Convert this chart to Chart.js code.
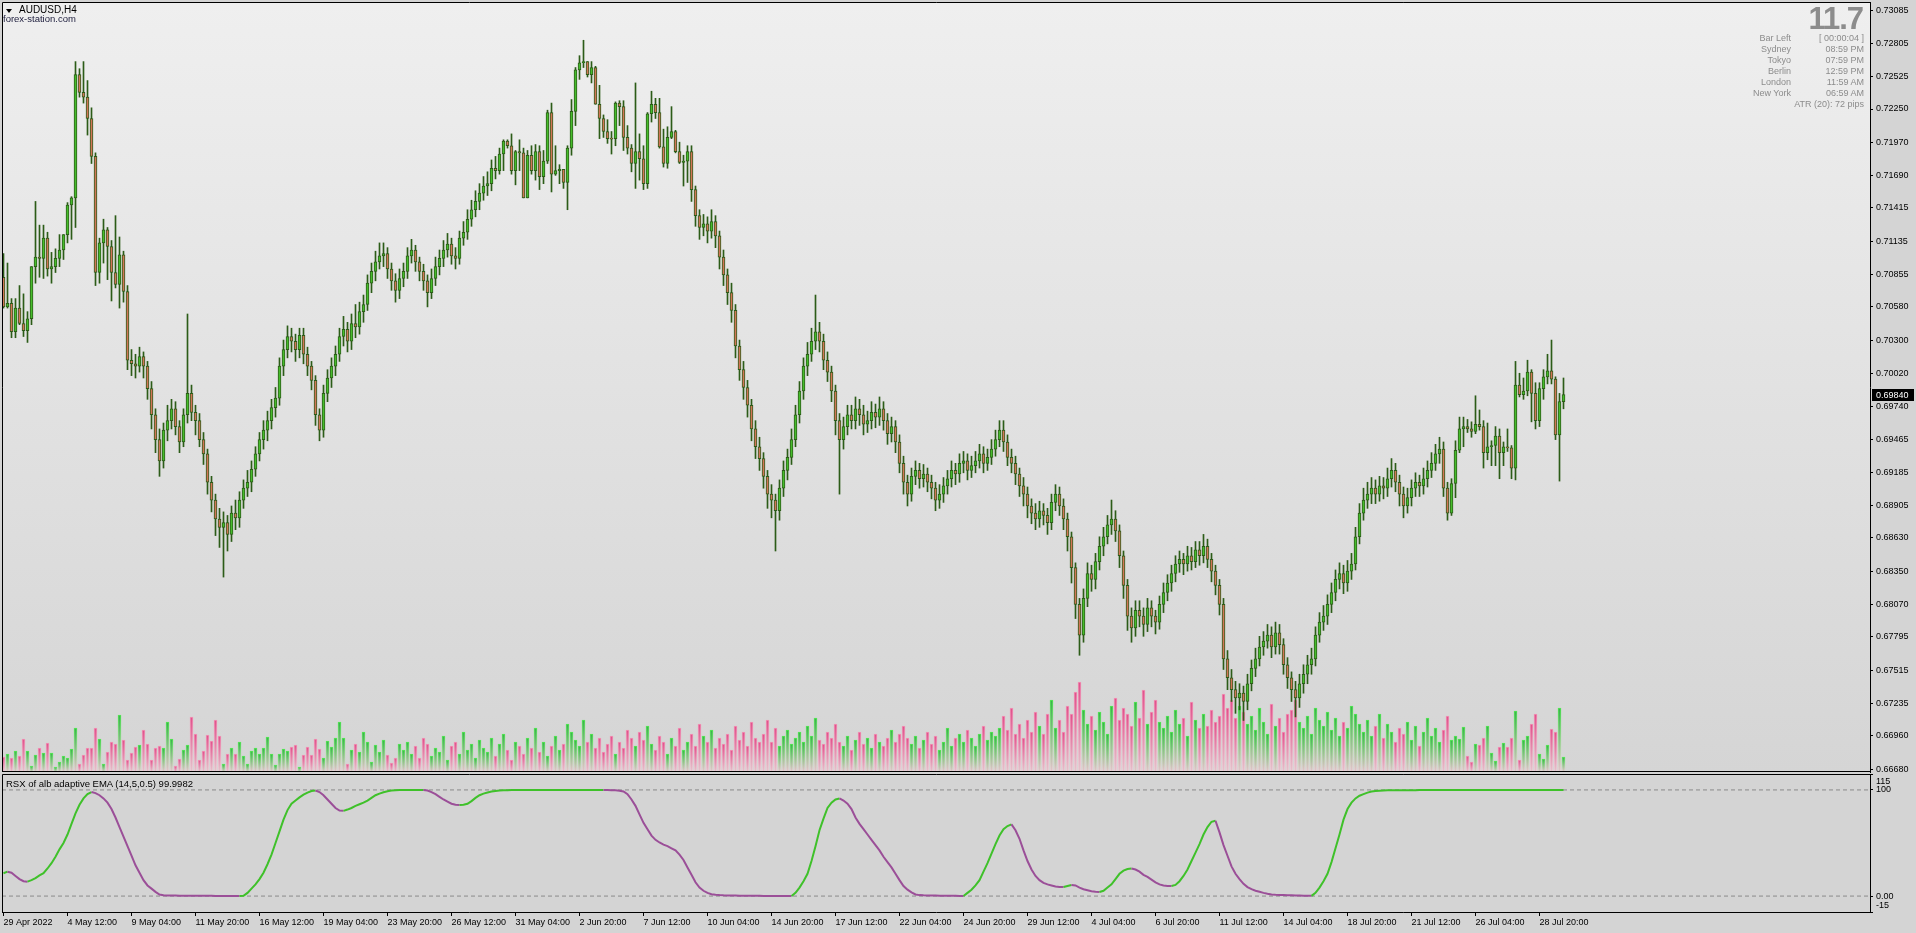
<!DOCTYPE html>
<html>
<head>
<meta charset="utf-8">
<title>AUDUSD,H4</title>
<script src="https://cdn.jsdelivr.net/npm/chart.js@4.4.1/dist/chart.umd.min.js"></script>
<style>
  html, body { margin: 0; padding: 0; background: #d4d4d4; }
  body { width: 1916px; height: 933px; position: relative; overflow: hidden; font-family: "Liberation Sans", Arial, sans-serif; }
  #mainWrap { position: absolute; left: 0; top: 0; }
  #rsxWrap { position: absolute; left: 0; top: 772px; }
  .txt { position: absolute; white-space: nowrap; line-height: 1; }
  #tri { position: absolute; left: 6px; top: 9px; width: 0; height: 0; border-left: 3px solid transparent; border-right: 3px solid transparent; border-top: 4px solid #000; }
</style>
</head>
<body>
<div id="mainWrap"><canvas id="mainChart" width="1916" height="774"></canvas></div>
<div id="rsxWrap"><canvas id="rsxChart" width="1916" height="161"></canvas></div>
<div id="tri"></div>
<div class="txt" style="left:19px;top:5px;font-size:10px;color:#000;">AUDUSD,H4</div>
<div class="txt" style="left:3px;top:14px;font-size:9.5px;color:#1c1c3c;">forex-station.com</div>
<div class="txt" style="left:6px;top:779px;font-size:9.5px;color:#000;">RSX of alb adaptive EMA (14,5,0.5) 99.9982</div>
<div class="txt" style="right:53px;top:3px;font-size:31px;font-weight:bold;color:#8c8c8c;letter-spacing:-1px;">11.7</div>
<div id="info"></div>
<script>
// ---- data ----
const timeLabels = ['29 Apr 2022', '4 May 12:00', '9 May 04:00', '11 May 20:00', '16 May 12:00', '19 May 04:00',
  '23 May 20:00', '26 May 12:00', '31 May 04:00', '2 Jun 20:00', '7 Jun 12:00', '10 Jun 04:00', '14 Jun 20:00',
  '17 Jun 12:00', '22 Jun 04:00', '24 Jun 20:00', '29 Jun 12:00', '4 Jul 04:00', '6 Jul 20:00', '11 Jul 12:00',
  '14 Jul 04:00', '18 Jul 20:00', '21 Jul 12:00', '26 Jul 04:00', '28 Jul 20:00'];
const labelStep = 16; // bars between time labels

const priceTicks = [0.73085, 0.72805, 0.72525, 0.72250, 0.71970, 0.71690, 0.71415, 0.71135, 0.70855, 0.70580,
  0.70300, 0.70020, 0.69740, 0.69465, 0.69185, 0.68905, 0.68630, 0.68350, 0.68070, 0.67795, 0.67515, 0.67235,
  0.66960, 0.66680];
const rsxTicks = [115, 100, 0, -15];
const rsxLevels = [100, 0];

const firstOpen = 0.7083;
const closes = [
  0.7058, 0.7061, 0.7037, 0.7057, 0.7044, 0.7038, 0.7048, 0.7092, 0.7100, 0.7099,
  0.7116, 0.7090, 0.7092, 0.7099, 0.7106, 0.7119, 0.7144, 0.7150, 0.7254, 0.7239,
  0.7235, 0.7217, 0.7185, 0.7087, 0.7112, 0.7123, 0.7109, 0.7087, 0.7077, 0.7102,
  0.7071, 0.7013, 0.7010, 0.7008, 0.7016, 0.7008, 0.6989, 0.6967, 0.6946, 0.6928,
  0.6954, 0.6962, 0.6972, 0.6957, 0.6944, 0.6967, 0.6985, 0.6969, 0.6962, 0.6946,
  0.6934, 0.6910, 0.6895, 0.6879, 0.6872, 0.6876, 0.6866, 0.6884, 0.6880, 0.6895,
  0.6905, 0.6910, 0.6921, 0.6934, 0.6946, 0.6954, 0.6962, 0.6973, 0.6981, 0.7008,
  0.7022, 0.7033, 0.7029, 0.7022, 0.7034, 0.7018, 0.7008, 0.6996, 0.6967, 0.6954,
  0.6985, 0.6998, 0.7008, 0.7018, 0.7033, 0.7039, 0.7029, 0.7044, 0.7041, 0.7054,
  0.7060, 0.7078, 0.7088, 0.7096, 0.7101, 0.7103, 0.7090, 0.7080, 0.7072, 0.7082,
  0.7088, 0.7101, 0.7106, 0.7096, 0.7088, 0.7080, 0.7070, 0.7082, 0.7092, 0.7099,
  0.7106, 0.7111, 0.7101, 0.7099, 0.7116, 0.7121, 0.7132, 0.7140, 0.7147, 0.7154,
  0.7160, 0.7162, 0.7175, 0.7173, 0.7187, 0.7198, 0.7194, 0.7173, 0.7189, 0.7188,
  0.7150, 0.7186, 0.7173, 0.7189, 0.7168, 0.7181, 0.7222, 0.7170, 0.7173, 0.7174,
  0.7163, 0.7192, 0.7223, 0.7258, 0.7264, 0.7265, 0.7254, 0.7260, 0.7229, 0.7217,
  0.7206, 0.7200, 0.7200, 0.7230, 0.7227, 0.7201, 0.7192, 0.7179, 0.7189, 0.7183,
  0.7162, 0.7221, 0.7229, 0.7222, 0.7193, 0.7179, 0.7201, 0.7206, 0.7189, 0.7180,
  0.7181, 0.7189, 0.7157, 0.7135, 0.7125, 0.7128, 0.7122, 0.7130, 0.7118, 0.7100,
  0.7085, 0.7070, 0.7055, 0.7025, 0.7005, 0.6990, 0.6975, 0.6955, 0.6940, 0.6930,
  0.6915, 0.6900, 0.6895, 0.6886, 0.6905, 0.6920, 0.6931, 0.6946, 0.6967, 0.6987,
  0.7008, 0.7018, 0.7029, 0.7037, 0.7029, 0.7013, 0.7003, 0.6987, 0.6962, 0.6946,
  0.6957, 0.6967, 0.6962, 0.6972, 0.6967, 0.6959, 0.6962, 0.6969, 0.6965, 0.6972,
  0.6962, 0.6951, 0.6957, 0.6944, 0.6926, 0.6910, 0.6900, 0.6915, 0.6920, 0.6913,
  0.6917, 0.6910, 0.6905, 0.6895, 0.6900, 0.6907, 0.6913, 0.6920, 0.6917, 0.6926,
  0.6928, 0.6920, 0.6924, 0.6928, 0.6934, 0.6926, 0.6931, 0.6938, 0.6946, 0.6954,
  0.6944, 0.6931, 0.6926, 0.6917, 0.6907, 0.6900, 0.6890, 0.6884, 0.6879, 0.6886,
  0.6882, 0.6876, 0.6893, 0.6900, 0.6890, 0.6879, 0.6864, 0.6838, 0.6807, 0.6781,
  0.6812, 0.6833, 0.6828, 0.6843, 0.6856, 0.6864, 0.6874, 0.6879, 0.6869, 0.6848,
  0.6823, 0.6797, 0.6787, 0.6802, 0.6797, 0.6790, 0.6804, 0.6797, 0.6792, 0.6807,
  0.6817, 0.6825, 0.6833, 0.6841, 0.6845, 0.6841, 0.6848, 0.6843, 0.6853, 0.6848,
  0.6856, 0.6845, 0.6835, 0.6823, 0.6807, 0.6761, 0.6745, 0.6735, 0.6728, 0.6732,
  0.6725, 0.6740, 0.6753, 0.6761, 0.6771, 0.6776, 0.6781, 0.6771, 0.6783, 0.6773,
  0.6756, 0.6745, 0.6735, 0.6728, 0.6740, 0.6748, 0.6756, 0.6761, 0.6781, 0.6792,
  0.6797, 0.6807, 0.6817, 0.6828, 0.6833, 0.6825, 0.6835, 0.6841, 0.6864, 0.6884,
  0.6895, 0.6900, 0.6905, 0.6900, 0.6907, 0.6905, 0.6913, 0.6920, 0.6910, 0.6900,
  0.6890, 0.6897, 0.6905, 0.6910, 0.6907, 0.6913, 0.6920, 0.6926, 0.6934, 0.6938,
  0.6905, 0.6884, 0.6909, 0.6937, 0.6955, 0.6957, 0.6955, 0.6953, 0.6959, 0.6957,
  0.6935, 0.6940, 0.6941, 0.6949, 0.6935, 0.6940, 0.6939, 0.6922, 0.6992, 0.6984,
  0.6987, 0.7003, 0.6985, 0.6962, 0.6989, 0.6999, 0.7004, 0.6997, 0.6950, 0.6978,
  0.6984];
const highs = [
  0.7103, 0.7095, 0.7065, 0.7065, 0.7076, 0.7069, 0.7054, 0.7092, 0.7147, 0.7127,
  0.7127, 0.7121, 0.7104, 0.7107, 0.7119, 0.7119, 0.7146, 0.7151, 0.7265, 0.7259,
  0.7265, 0.7249, 0.7226, 0.7188, 0.7116, 0.7132, 0.7125, 0.7114, 0.7135, 0.7117,
  0.7105, 0.7076, 0.7022, 0.7018, 0.7024, 0.7020, 0.7012, 0.6995, 0.6972, 0.6955,
  0.6960, 0.6975, 0.6980, 0.6978, 0.6962, 0.6972, 0.7052, 0.6992, 0.6975, 0.6968,
  0.6952, 0.6938, 0.6915, 0.6900, 0.6888, 0.6885, 0.6882, 0.6890, 0.6895, 0.6902,
  0.6912, 0.6920, 0.6928, 0.6940, 0.6952, 0.6962, 0.6970, 0.6980, 0.6990, 0.7015,
  0.7030, 0.7042, 0.7040, 0.7035, 0.7040, 0.7040, 0.7024, 0.7012, 0.7000, 0.6972,
  0.6992, 0.7005, 0.7015, 0.7025, 0.7040, 0.7050, 0.7045, 0.7052, 0.7060, 0.7062,
  0.7068, 0.7085, 0.7095, 0.7105, 0.7112, 0.7112, 0.7108, 0.7095, 0.7086, 0.7090,
  0.7095, 0.7108, 0.7115, 0.7110, 0.7100, 0.7094, 0.7085, 0.7090, 0.7100, 0.7106,
  0.7114, 0.7120, 0.7116, 0.7108, 0.7122, 0.7130, 0.7140, 0.7148, 0.7156, 0.7162,
  0.7168, 0.7172, 0.7182, 0.7185, 0.7192, 0.7199, 0.7199, 0.7204, 0.7190, 0.7199,
  0.7192, 0.7190, 0.7194, 0.7195, 0.7194, 0.7190, 0.7224, 0.7230, 0.7194, 0.7178,
  0.7174, 0.7194, 0.7233, 0.7260, 0.7270, 0.7283, 0.7265, 0.7265, 0.7261, 0.7245,
  0.7220, 0.7216, 0.7206, 0.7231, 0.7232, 0.7232, 0.7211, 0.7195, 0.7247, 0.7204,
  0.7194, 0.7222, 0.7240, 0.7234, 0.7234, 0.7208, 0.7210, 0.7227, 0.7207, 0.7197,
  0.7186, 0.7194, 0.7194, 0.7160, 0.7140, 0.7136, 0.7134, 0.7140, 0.7135, 0.7122,
  0.7106, 0.7090, 0.7078, 0.7060, 0.7030, 0.7012, 0.6996, 0.6980, 0.6962, 0.6948,
  0.6935, 0.6920, 0.6908, 0.6900, 0.6912, 0.6928, 0.6938, 0.6955, 0.6975, 0.6995,
  0.7015, 0.7028, 0.7040, 0.7068, 0.7045, 0.7035, 0.7020, 0.7008, 0.6992, 0.6968,
  0.6965, 0.6975, 0.6975, 0.6982, 0.6980, 0.6975, 0.6970, 0.6978, 0.6976, 0.6982,
  0.6978, 0.6968, 0.6965, 0.6962, 0.6950, 0.6932, 0.6916, 0.6922, 0.6928, 0.6926,
  0.6925, 0.6922, 0.6916, 0.6910, 0.6908, 0.6914, 0.6920, 0.6928, 0.6926, 0.6934,
  0.6936, 0.6934, 0.6932, 0.6936, 0.6942, 0.6940, 0.6938, 0.6946, 0.6954, 0.6962,
  0.6962, 0.6950, 0.6938, 0.6932, 0.6922, 0.6914, 0.6906, 0.6896, 0.6892, 0.6894,
  0.6892, 0.6888, 0.6900, 0.6908, 0.6906, 0.6896, 0.6884, 0.6868, 0.6842, 0.6812,
  0.6820, 0.6842, 0.6840, 0.6850, 0.6864, 0.6872, 0.6882, 0.6895, 0.6886, 0.6874,
  0.6852, 0.6828, 0.6804, 0.6810, 0.6810, 0.6804, 0.6812, 0.6810, 0.6802, 0.6814,
  0.6825, 0.6832, 0.6840, 0.6848, 0.6852, 0.6850, 0.6856, 0.6855, 0.6860, 0.6860,
  0.6866, 0.6862, 0.6850, 0.6840, 0.6828, 0.6812, 0.6768, 0.6752, 0.6742, 0.6740,
  0.6738, 0.6748, 0.6760, 0.6770, 0.6780, 0.6784, 0.6790, 0.6788, 0.6792, 0.6790,
  0.6778, 0.6762, 0.6750, 0.6742, 0.6748, 0.6756, 0.6764, 0.6770, 0.6788, 0.6800,
  0.6806, 0.6815, 0.6825, 0.6836, 0.6842, 0.6840, 0.6844, 0.6850, 0.6872, 0.6892,
  0.6905, 0.6910, 0.6914, 0.6912, 0.6915, 0.6914, 0.6922, 0.6930, 0.6926, 0.6916,
  0.6906, 0.6905, 0.6912, 0.6918, 0.6916, 0.6922, 0.6928, 0.6935, 0.6942, 0.6948,
  0.6944, 0.6910, 0.6913, 0.6945, 0.6965, 0.6965, 0.6963, 0.6961, 0.6983, 0.6971,
  0.6962, 0.6960, 0.6945, 0.6957, 0.6955, 0.6944, 0.6955, 0.6941, 0.7012, 0.7002,
  0.6998, 0.7013, 0.7005, 0.6994, 0.6994, 0.7005, 0.7018, 0.7030, 0.6999, 0.6985,
  0.6998];
const lows = [
  0.7057, 0.7057, 0.7032, 0.7032, 0.7043, 0.7033, 0.7028, 0.7043, 0.7078, 0.7083,
  0.7082, 0.7084, 0.7078, 0.7087, 0.7092, 0.7098, 0.7112, 0.7115, 0.7125, 0.7235,
  0.7230, 0.7203, 0.7179, 0.7076, 0.7078, 0.7095, 0.7081, 0.7063, 0.7074, 0.7057,
  0.7062, 0.7005, 0.7000, 0.6998, 0.7003, 0.6998, 0.6980, 0.6955, 0.6935, 0.6915,
  0.6922, 0.6945, 0.6955, 0.6950, 0.6935, 0.6940, 0.6960, 0.6962, 0.6950, 0.6940,
  0.6925, 0.6900, 0.6885, 0.6865, 0.6855, 0.6830, 0.6852, 0.6860, 0.6870, 0.6872,
  0.6888, 0.6898, 0.6902, 0.6915, 0.6928, 0.6938, 0.6945, 0.6955, 0.6965, 0.6975,
  0.7000, 0.7015, 0.7020, 0.7012, 0.7015, 0.7010, 0.7000, 0.6988, 0.6958, 0.6945,
  0.6948, 0.6978, 0.6990, 0.7000, 0.7012, 0.7025, 0.7020, 0.7022, 0.7032, 0.7035,
  0.7045, 0.7055, 0.7070, 0.7080, 0.7090, 0.7092, 0.7082, 0.7072, 0.7062, 0.7065,
  0.7075, 0.7082, 0.7095, 0.7088, 0.7080, 0.7072, 0.7058, 0.7065, 0.7076, 0.7085,
  0.7092, 0.7100, 0.7094, 0.7090, 0.7094, 0.7110, 0.7115, 0.7126, 0.7134, 0.7140,
  0.7148, 0.7152, 0.7156, 0.7166, 0.7170, 0.7173, 0.7192, 0.7170, 0.7161, 0.7173,
  0.7150, 0.7150, 0.7170, 0.7165, 0.7157, 0.7162, 0.7179, 0.7155, 0.7169, 0.7162,
  0.7158, 0.7140, 0.7186, 0.7211, 0.7250, 0.7260, 0.7252, 0.7247, 0.7229, 0.7200,
  0.7201, 0.7196, 0.7187, 0.7194, 0.7211, 0.7190, 0.7187, 0.7172, 0.7158, 0.7165,
  0.7157, 0.7158, 0.7214, 0.7217, 0.7192, 0.7176, 0.7175, 0.7200, 0.7188, 0.7179,
  0.7160, 0.7163, 0.7147, 0.7126, 0.7115, 0.7118, 0.7112, 0.7116, 0.7108, 0.7090,
  0.7076, 0.7060, 0.7045, 0.7015, 0.6996, 0.6980, 0.6965, 0.6945, 0.6930, 0.6920,
  0.6905, 0.6888, 0.6880, 0.6852, 0.6878, 0.6898, 0.6912, 0.6925, 0.6940, 0.6960,
  0.6980, 0.7000, 0.7012, 0.7022, 0.7020, 0.7005, 0.6995, 0.6978, 0.6950, 0.6900,
  0.6938, 0.6950, 0.6955, 0.6955, 0.6958, 0.6950, 0.6952, 0.6955, 0.6956, 0.6958,
  0.6954, 0.6942, 0.6944, 0.6935, 0.6918, 0.6900, 0.6890, 0.6894, 0.6908, 0.6905,
  0.6906, 0.6902, 0.6896, 0.6886, 0.6888, 0.6893, 0.6900, 0.6906, 0.6908, 0.6910,
  0.6918, 0.6912, 0.6914, 0.6918, 0.6922, 0.6918, 0.6920, 0.6925, 0.6932, 0.6940,
  0.6936, 0.6924, 0.6918, 0.6908, 0.6898, 0.6890, 0.6880, 0.6875, 0.6870, 0.6872,
  0.6874, 0.6866, 0.6870, 0.6886, 0.6882, 0.6870, 0.6852, 0.6825, 0.6795, 0.6764,
  0.6775, 0.6805, 0.6818, 0.6820, 0.6836, 0.6848, 0.6858, 0.6866, 0.6860, 0.6838,
  0.6812, 0.6785, 0.6775, 0.6780, 0.6788, 0.6780, 0.6784, 0.6788, 0.6782, 0.6786,
  0.6800, 0.6810, 0.6818, 0.6826, 0.6834, 0.6832, 0.6835, 0.6836, 0.6838, 0.6840,
  0.6842, 0.6838, 0.6826, 0.6815, 0.6798, 0.6752, 0.6735, 0.6725, 0.6715, 0.6718,
  0.6709, 0.6718, 0.6734, 0.6746, 0.6755, 0.6764, 0.6770, 0.6762, 0.6765, 0.6765,
  0.6748, 0.6736, 0.6725, 0.6712, 0.6720, 0.6732, 0.6740, 0.6748, 0.6755, 0.6775,
  0.6785, 0.6790, 0.6800, 0.6810, 0.6820, 0.6816, 0.6818, 0.6828, 0.6836, 0.6858,
  0.6878, 0.6888, 0.6892, 0.6892, 0.6894, 0.6896, 0.6898, 0.6906, 0.6902, 0.6890,
  0.6880, 0.6884, 0.6890, 0.6898, 0.6898, 0.6900, 0.6906, 0.6914, 0.6920, 0.6926,
  0.6898, 0.6878, 0.6882, 0.6897, 0.6935, 0.6940, 0.6952, 0.6948, 0.6951, 0.6954,
  0.6922, 0.6929, 0.6924, 0.6924, 0.6913, 0.6924, 0.6936, 0.6913, 0.6912, 0.6982,
  0.6980, 0.6983, 0.6961, 0.6955, 0.6957, 0.6980, 0.6993, 0.6993, 0.6946, 0.6911,
  0.6972];
// tick volume, in ticks
const volumes = [
  1500, 1800, 1400, 2100, 1600, 3300, 2100, 600, 1700, 2400,
  1900, 2900, 1900, 500, 1000, 1600, 1400, 2300, 4400, 800,
  1700, 2400, 2400, 4400, 3300, 800, 2000, 3000, 2800, 5700,
  3200, 1200, 1900, 2500, 2700, 4200, 2800, 1200, 2400, 2600,
  2400, 5000, 3300, 600, 1300, 2200, 2700, 5500, 3800, 1200,
  2100, 3700, 3100, 5200, 3600, 800, 1800, 2400, 1800, 3000,
  1600, 800, 2100, 2400, 1800, 2400, 3500, 1800, 700, 1800,
  2300, 2100, 2500, 2700, 500, 1700, 2500, 1700, 3300, 2300,
  1400, 3100, 2500, 3400, 5000, 3400, 800, 2200, 2800, 2000,
  4000, 3000, 1000, 2700, 2000, 3200, 1700, 900, 1400, 2800,
  2200, 3000, 1800, 2600, 1400, 3400, 2800, 1600, 2400, 2000,
  3600, 1200, 2600, 3000, 1800, 4000, 2200, 2800, 1400, 3200,
  2400, 2000, 3400, 1600, 2800, 3800, 2200, 1200, 3000, 2600,
  1800, 3400, 2400, 4400, 2000, 3000, 1600, 2600, 3600, 2200,
  2800, 4800, 4000, 3200, 2600, 5200, 3000, 3800, 2400, 3400,
  2000, 2800, 3600, 1800, 3000, 2400, 4200, 3400, 2600, 4000,
  3200, 4600, 2800, 2200, 3600, 3000, 1800, 3400, 2600, 4400,
  2200, 3000, 3800, 2600, 4800, 3600, 3000, 4200, 2400, 3400,
  2800, 3800, 2200, 4600, 3200, 4000, 2600, 5000, 3400, 3000,
  3800, 5200, 3000, 4400, 2600, 3600, 4200, 2800, 3400, 4000,
  3000, 4600, 3600, 5400, 3200, 2800, 4000, 3400, 4800, 3000,
  2600, 3600, 2200, 3200, 4000, 2800, 3400, 2400, 3800, 3000,
  2600, 3400, 4200, 3000, 3800, 4600, 3400, 2800, 3600, 2400,
  3200, 4000, 2800, 3600, 2200, 3000, 4400, 2600, 3400, 3800,
  3000, 4200, 3400, 2600, 3800, 4600, 3200, 4000, 3600, 4400,
  5600, 4200, 6400, 3800, 4800, 3400, 5200, 4000, 6000, 4600,
  3800, 5800, 7200, 4400, 5200, 4000, 6600, 5800, 8000, 9000,
  6200, 4800, 5600, 4200, 6000, 5000, 3800, 6600, 7400, 5200,
  6400, 5800, 4600, 7000, 5400, 8200, 4800, 6000, 7200, 5000,
  4400, 5600, 4000, 6200, 4800, 5400, 3600, 7000, 5200, 4400,
  5800, 4600, 6200, 5000, 5600, 7800, 6400, 7200, 5400, 6600,
  6000, 4800, 5600, 4200, 6400, 5000, 3800, 6800, 4600, 5400,
  4000, 5800, 6200, 7200, 5000, 4400, 5600, 3800, 6400, 5200,
  4600, 6000, 4200, 5400, 3600, 5000, 4400, 6600, 5800, 4800,
  4000, 5200, 3600, 4600, 5800, 3400, 4800, 4000, 3000, 4400,
  3800, 5000, 3200, 4600, 2600, 4000, 5400, 3600, 4400, 3000,
  4200, 5600, 3200, 3600, 3300, 4500, 1600, 1000, 2800, 2700,
  3400, 4600, 1900, 1100, 2500, 2900, 2500, 3400, 6100, 1200,
  3200, 3600, 4800, 5800, 1800, 1300, 2700, 4300, 4000, 6400,
  1500];
const rsx = [
  21.5, 23, 22, 19, 16, 14, 13.6, 15, 17, 19.5,
  21.5, 26, 31, 37, 44, 50, 58, 68, 78, 86,
  92, 96, 98, 97, 95, 92, 88, 82, 74, 65,
  56, 47, 38, 29, 22, 15, 10, 7, 4, 1.5,
  0.8, 0.6, 0.5, 0.45, 0.4, 0.36, 0.33, 0.3, 0.28, 0.26,
  0.24, 0.22, 0.2, 0.18, 0.16, 0.14, 0.12, 0.1, 0.08, 0.06,
  0.2, 3, 7, 11, 16, 22, 30, 39, 50, 61,
  72, 81, 87, 90, 93, 95.5, 97.5, 99, 99.5, 98,
  95, 91, 87, 83, 80.5, 80.3, 81.5, 83, 85, 86.5,
  88, 90, 92.5, 95, 96.5, 97.8, 98.8, 99.4, 99.8, 100,
  100, 100, 100, 100, 100, 100, 99.5, 98, 96, 93.5,
  91, 89, 87, 86, 85.8, 86, 87, 89.5, 92.5, 95,
  96.5, 97.5, 98.5, 99, 99.4, 99.6, 99.8, 99.9, 100, 100,
  100, 100, 100, 100, 100, 100, 100, 100, 100, 100,
  100, 100, 100, 100, 100, 100, 100, 100, 100, 100,
  100, 99.9, 99.8, 99.6, 99.3, 98.5, 96, 91, 85, 77,
  69, 63, 57, 53, 50.5, 48.5, 47, 45, 43, 39,
  34, 27, 20, 13, 8, 5, 3, 1.8, 1.2, 0.9,
  0.7, 0.6, 0.5, 0.45, 0.4, 0.35, 0.3, 0.27, 0.24, 0.2,
  0.18, 0.16, 0.14, 0.12, 0.1, 0.08, 0.06, 0.05, 3, 8,
  14, 21, 33, 47, 62, 73, 83, 88, 91, 92,
  90, 87, 82, 74, 68, 63, 58, 53, 48, 43,
  37, 32, 27, 21, 15, 9.5, 6, 3.5, 1.5, 0.9,
  0.7, 0.6, 0.5, 0.45, 0.4, 0.35, 0.3, 0.25, 0.2, 0.15,
  0.1, 3, 6, 10, 15, 23, 31, 40, 49, 57,
  63, 66, 67.6, 62, 54, 43, 33, 25, 19, 15,
  12.5, 11, 10, 9, 8.5, 8.5, 9.5, 10.5, 10, 8,
  6.5, 5.5, 4.5, 4, 3.8, 5, 8, 11, 16, 21,
  24, 25.5, 26, 25, 23, 20, 18, 15.5, 13, 11,
  10, 9.5, 9.5, 10.5, 14, 19, 25, 33, 41, 49,
  58, 65, 70, 71, 60, 48, 38, 28, 21, 16,
  11.5, 8.5, 6.5, 5, 4, 3, 2.2, 1.5, 1.2, 1,
  0.9, 0.8, 0.7, 0.6, 0.5, 0.4, 0.3, 0.2, 3, 8,
  14, 21, 32, 45, 58, 72, 82, 88, 92, 94.5,
  96, 97.5, 98.5, 99, 99.3, 99.5, 99.6, 99.65, 99.7, 99.72,
  99.74, 99.76, 99.78, 99.8, 99.82, 99.83, 99.84, 99.85, 99.86, 99.87,
  99.88, 99.885, 99.89, 99.895, 99.9, 99.905, 99.91, 99.915, 99.92, 99.925,
  99.93, 99.935, 99.94, 99.945, 99.95, 99.955, 99.96, 99.963, 99.966, 99.969,
  99.972, 99.975, 99.978, 99.981, 99.984, 99.987, 99.99, 99.992, 99.994, 99.996,
  99.9982];

const infoNames = ['Bar Left', 'Sydney', 'Tokyo', 'Berlin', 'London', 'New York'];
const infoValues = ['[ 00:00:04 ]', '08:59 PM', '07:59 PM', '12:59 PM', '11:59 AM', '06:59 AM'];
const atrText = 'ATR (20): 72 pips';

// ---- look ----
const upFill = '#46bd2c', downFill = '#d27658', candleLine = '#2c5c18';
const rsxUp = '#3fc12a', rsxDown = '#9b4f98';
const xMin = -0.375, xMax = 466.625;

Chart.defaults.font.family = '"Liberation Sans", Arial, sans-serif';
Chart.defaults.font.size = 9;
Chart.defaults.color = '#000';

// info block (top right)
const info = document.getElementById('info');
infoNames.forEach((name, k) => {
  const top = 34 + k * 10.9;
  info.insertAdjacentHTML('beforeend',
    `<div class="txt" style="right:125px;top:${top}px;font-size:9px;color:#8c8c8c;">${name}</div>` +
    `<div class="txt" style="right:52px;top:${top}px;font-size:9px;color:#8c8c8c;">${infoValues[k]}</div>`);
});
info.insertAdjacentHTML('beforeend',
  `<div class="txt" style="right:52px;top:${34 + 6 * 10.9 + 1}px;font-size:9px;color:#8c8c8c;">${atrText}</div>`);

// candles
const opens = closes.map((c, i) => i === 0 ? firstOpen : closes[i - 1]);
const ups = closes.map((c, i) => c > opens[i]);
const bodyData = closes.map((c, i) => {
  const o = opens[i];
  if (Math.abs(o - c) < 0.00006) return { x: i, y: [o - 0.00004, o + 0.00004] };
  return { x: i, y: [o, c] };
});
const wickData = highs.map((h, i) => ({ x: i, y: [lows[i], h] }));
const volData = volumes.map((v, i) => ({ x: i, y: v }));

// volume bars fade from their own top down to a pale pink base
function volGradient(ctx, topUp, topDown, bottom) {
  const chart = ctx.chart;
  const up = ups[ctx.dataIndex];
  const flat = up ? topUp : topDown;
  const yv = chart.scales.yv;
  if (!yv || !ctx.raw) return flat;
  const top = yv.getPixelForValue(ctx.raw.y);
  const base = yv.getPixelForValue(0);
  if (!isFinite(top) || !isFinite(base) || base - top < 1) return flat;
  const g = chart.ctx.createLinearGradient(0, top, 0, base);
  g.addColorStop(0, flat);
  g.addColorStop(1, bottom);
  return g;
}

function fitAxis(size, horizontal) {
  return s => {
    if (horizontal) s.height = size; else s.width = size;
    s.paddingTop = 0; s.paddingBottom = 0; s.paddingLeft = 0; s.paddingRight = 0;
  };
}

const panelPlugin = {
  id: 'panel',
  beforeDraw(chart, args, opts) {
    const { ctx, chartArea: a } = chart;
    ctx.save();
    if (opts.gradient) {
      const g = ctx.createLinearGradient(0, a.top, 0, a.bottom);
      g.addColorStop(0, '#efefef');
      g.addColorStop(1, '#d5d5d5');
      ctx.fillStyle = g;
    } else {
      ctx.fillStyle = '#d4d4d4';
    }
    ctx.fillRect(a.left, a.top, a.right - a.left, a.bottom - a.top);
    ctx.restore();
  },
  afterDraw(chart, args, opts) {
    const { ctx, chartArea: a } = chart;
    ctx.save();
    ctx.strokeStyle = '#000';
    ctx.lineWidth = 1;
    ctx.beginPath();
    ctx.moveTo(a.left + 0.5, a.bottom);
    ctx.lineTo(a.left + 0.5, a.top + 0.5);
    ctx.lineTo(a.right, a.top + 0.5);
    if (opts.bottomLine) {
      ctx.moveTo(a.left, a.bottom - 0.5);
      ctx.lineTo(a.right, a.bottom - 0.5);
    }
    ctx.stroke();
    // price tag for last close
    if (opts.priceTag) {
      const last = closes[closes.length - 1];
      const y = Math.round(chart.scales.y.getPixelForValue(last));
      ctx.fillStyle = '#000';
      ctx.fillRect(a.right + 2, y - 6, 42, 12);
      ctx.fillStyle = '#fff';
      ctx.font = '9px "Liberation Sans", Arial, sans-serif';
      ctx.textBaseline = 'middle';
      ctx.fillText(last.toFixed(5), a.right + 6, y + 0.5);
    }
    // edge labels of the indicator axis
    if (opts.edgeLabels) {
      const s = chart.scales.y;
      ctx.fillStyle = '#000';
      ctx.font = '9px "Liberation Sans", Arial, sans-serif';
      ctx.textBaseline = 'middle';
      ctx.fillText(String(rsxTicks[0]), a.right + 6, s.getPixelForValue(rsxTicks[0]) + 8);
      ctx.fillText(String(rsxTicks[3]), a.right + 6, s.getPixelForValue(rsxTicks[3]) - 6);
    }
    ctx.restore();
  }
};

new Chart(document.getElementById('mainChart'), {
  type: 'bar',
  data: {
    datasets: [
      { data: volData, yAxisID: 'yv', grouped: false, order: 3, barThickness: 3, maxBarThickness: 3,
        backgroundColor: c => volGradient(c, '#37b34a', '#e0508c', '#e4c4cc'),
        borderColor: c => volGradient(c, '#52ea52', '#f092b4', '#ecd4da'),
        borderWidth: 1, borderSkipped: false },
      { data: wickData, yAxisID: 'y', grouped: false, order: 2, barThickness: 1, maxBarThickness: 1,
        backgroundColor: candleLine, borderWidth: 0 },
      { data: bodyData, yAxisID: 'y', grouped: false, order: 1, barThickness: 3, maxBarThickness: 3,
        backgroundColor: ups.map(u => u ? upFill : downFill), borderColor: candleLine, borderWidth: 1,
        borderSkipped: false }
    ]
  },
  options: {
    responsive: false,
    animation: false,
    events: [],
    layout: { padding: { left: 2, top: 2, bottom: 2, right: 0 } },
    plugins: { legend: { display: false }, tooltip: { enabled: false },
      panel: { gradient: true, bottomLine: true, priceTag: true } },
    scales: {
      x: { type: 'linear', min: xMin, max: xMax, offset: false, display: false },
      y: {
        position: 'right', min: 0.66655, max: 0.73153,
        afterBuildTicks: s => { s.ticks = priceTicks.map(v => ({ value: v })); },
        afterFit: fitAxis(46, false),
        ticks: { autoSkip: false, padding: 3, callback: v => v.toFixed(5) },
        grid: { drawOnChartArea: false, tickLength: 3, color: '#000' },
        border: { color: '#000' }
      },
      yv: { display: false, min: 0, max: 77000 }
    }
  },
  plugins: [panelPlugin]
});

// RSX line, coloured by direction
const rsxUpDir = [];
rsx.forEach((v, i) => {
  if (i === 0) rsxUpDir.push(true);
  else if (v > rsx[i - 1]) rsxUpDir.push(true);
  else if (v < rsx[i - 1]) rsxUpDir.push(false);
  else rsxUpDir.push(rsxUpDir[i - 1]);
});

const levelSets = rsxLevels.map(lv => ({
  type: 'line', data: [{ x: xMin, y: lv }, { x: xMax, y: lv }],
  borderColor: '#8a8a8a', borderWidth: 1, borderDash: [4, 3], pointRadius: 0, order: 2
}));

new Chart(document.getElementById('rsxChart'), {
  type: 'line',
  data: {
    datasets: [
      ...levelSets,
      { data: rsx.map((v, i) => ({ x: i, y: v })), borderWidth: 2, pointRadius: 0, order: 1,
        borderColor: rsxUp,
        segment: { borderColor: c => rsxUpDir[c.p1DataIndex] ? rsxUp : rsxDown } }
    ]
  },
  options: {
    responsive: false,
    animation: false,
    events: [],
    layout: { padding: { left: 2, top: 2, bottom: 0, right: 0 } },
    plugins: { legend: { display: false }, tooltip: { enabled: false },
      panel: { gradient: false, bottomLine: false, priceTag: false, edgeLabels: true } },
    scales: {
      x: {
        type: 'linear', min: xMin, max: xMax, offset: false,
        afterBuildTicks: s => { s.ticks = timeLabels.map((t, k) => ({ value: k * labelStep })); },
        afterFit: fitAxis(21, true),
        ticks: { autoSkip: false, maxRotation: 0, align: 'start', padding: 1,
          callback: v => timeLabels[Math.round(v / labelStep)] },
        grid: { drawOnChartArea: false, tickLength: 4, color: '#000' },
        border: { color: '#000' }
      },
      y: {
        position: 'right', min: -15, max: 115,
        afterBuildTicks: s => { s.ticks = rsxTicks.map(v => ({ value: v })); },
        afterFit: fitAxis(46, false),
        ticks: { autoSkip: false, padding: 3,
          callback: v => (v === 0 ? '0.00' : (v === 100 ? '100' : '')) },
        grid: { drawOnChartArea: false, tickLength: 3, color: '#000' },
        border: { color: '#000' }
      }
    }
  },
  plugins: [panelPlugin]
});
</script>
</body>
</html>
